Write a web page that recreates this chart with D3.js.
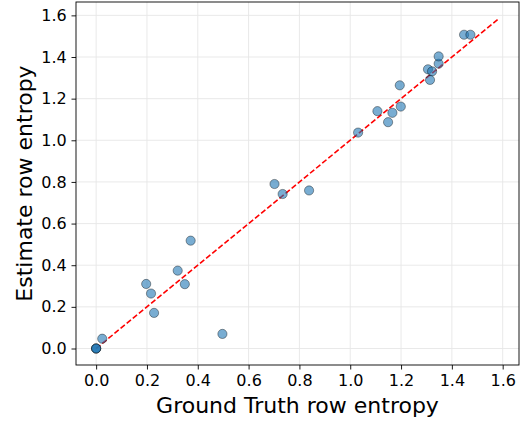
<!DOCTYPE html>
<html>
<head>
<meta charset="utf-8">
<script src="https://cdn.jsdelivr.net/npm/d3@7/dist/d3.min.js"></script>
<style>
  html, body { margin: 0; padding: 0; background: #fff; }
  svg { display: block; font-family: "DejaVu Sans", sans-serif; }
</style>
</head>
<body>
<svg id="chart" width="531" height="425"></svg>
<script>
// Ground-truth vs. estimated row entropy, one point per row
const groundTruth = [0, 0, 0, 0.024, 0.197, 0.216, 0.228, 0.321, 0.349, 0.372, 0.497,
  0.702, 0.734, 0.838, 1.031, 1.107, 1.149, 1.166, 1.199, 1.195,
  1.306, 1.322, 1.314, 1.348, 1.348, 1.448, 1.473];
const estimate = [0, 0, 0, 0.047, 0.310, 0.264, 0.171, 0.374, 0.309, 0.518, 0.070,
  0.790, 0.742, 0.759, 1.037, 1.140, 1.087, 1.132, 1.162, 1.264,
  1.341, 1.331, 1.290, 1.368, 1.403, 1.507, 1.507];
const xTicks = [0, 0.2, 0.4, 0.6, 0.8, 1.0, 1.2, 1.4, 1.6];
const yTicks = [0, 0.2, 0.4, 0.6, 0.8, 1.0, 1.2, 1.4, 1.6];
// Identity reference line from 0 to the maximum entropy of three states
const identityMax = Math.log2(3);

const svg = d3.select("#chart");
const margin = { left: 76, right: 12, top: 2, bottom: 60 };
const W = 531, H = 425;
const pad = identityMax * 0.05;
const x = d3.scaleLinear().domain([-pad, identityMax + pad]).range([margin.left, W - margin.right]);
const y = d3.scaleLinear().domain([-pad, identityMax + pad]).range([H - margin.bottom, margin.top]);

// grid
const grid = svg.append("g");
grid.selectAll("line.vx").data(xTicks).join("line")
  .attr("x1", d => x(d)).attr("x2", d => x(d))
  .attr("y1", y.range()[0]).attr("y2", y.range()[1])
  .attr("stroke", "#e6e6e6").attr("stroke-width", 0.9);
grid.selectAll("line.hy").data(yTicks).join("line")
  .attr("y1", d => y(d)).attr("y2", d => y(d))
  .attr("x1", x.range()[0]).attr("x2", x.range()[1])
  .attr("stroke", "#e6e6e6").attr("stroke-width", 0.9);

// axes
const fmt = d3.format(".1f");
const xAxis = svg.append("g").attr("transform", `translate(0,${y.range()[0]})`)
  .call(d3.axisBottom(x).tickValues(xTicks).tickFormat(fmt).tickSize(4.5).tickPadding(5.5));
const yAxis = svg.append("g").attr("transform", `translate(${x.range()[0]},0)`)
  .call(d3.axisLeft(y).tickValues(yTicks).tickFormat(fmt).tickSize(4.5).tickPadding(4.8));
[xAxis, yAxis].forEach(g => {
  g.select(".domain").remove();
  g.selectAll("text").attr("font-size", 16).attr("fill", "#000").attr("font-family", "DejaVu Sans");
  g.selectAll("line").attr("stroke", "#000").attr("stroke-width", 0.9);
});

// identity line
svg.append("line")
  .attr("x1", x(0)).attr("y1", y(0))
  .attr("x2", x(identityMax)).attr("y2", y(identityMax))
  .attr("stroke", "red").attr("stroke-width", 1.6)
  .attr("stroke-dasharray", "5.5,2.4");

// points
const pts = groundTruth.map((g, i) => ({ g, e: estimate[i] }));
svg.append("g").selectAll("circle").data(pts).join("circle")
  .attr("cx", d => x(d.g)).attr("cy", d => y(d.e)).attr("r", 4.6)
  .attr("fill", "#1f77b4").attr("fill-opacity", 0.6)
  .attr("stroke", "#000").attr("stroke-opacity", 0.55).attr("stroke-width", 0.7);

// frame
svg.append("rect")
  .attr("x", x.range()[0]).attr("y", y.range()[1])
  .attr("width", x.range()[1] - x.range()[0]).attr("height", y.range()[0] - y.range()[1])
  .attr("fill", "none").attr("stroke", "#000").attr("stroke-width", 0.9);

// axis titles
svg.append("text").attr("x", (x.range()[0] + x.range()[1]) / 2).attr("y", 413)
  .attr("text-anchor", "middle").attr("font-size", 22).text("Ground Truth row entropy");
svg.append("text").attr("transform", `translate(32,${(y.range()[0] + y.range()[1]) / 2}) rotate(-90)`)
  .attr("text-anchor", "middle").attr("font-size", 22).text("Estimate row entropy");
</script>
</body>
</html>
